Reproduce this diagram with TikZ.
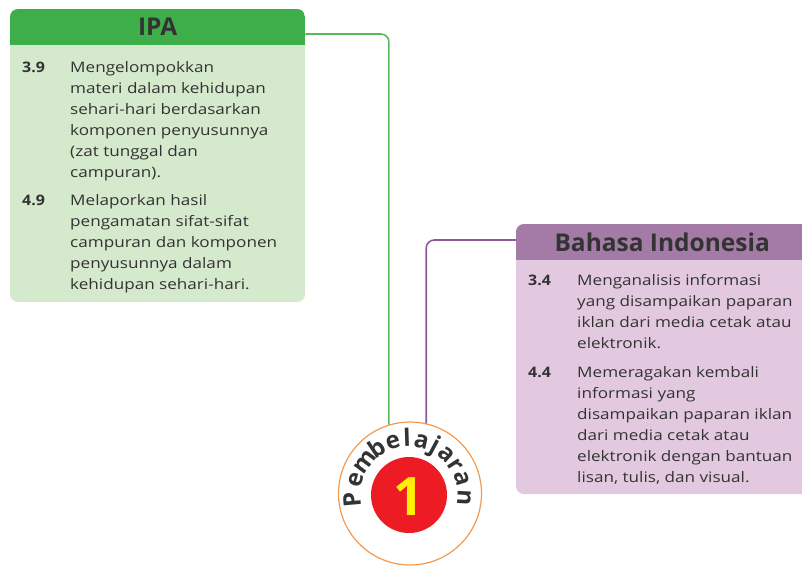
\documentclass[tikz,border=0pt]{standalone}
\usepackage{fontspec}
\setmainfont{Open Sans}
\usetikzlibrary{calc}
\definecolor{ipagreen}{HTML}{3DAE49}
\definecolor{ipalight}{HTML}{D5E9CD}
\definecolor{ipaline}{HTML}{5CB85C}
\definecolor{bipurple}{HTML}{A47BA7}
\definecolor{bilight}{HTML}{E3C9DF}
\definecolor{biline}{HTML}{8C5A98}
\definecolor{ringorange}{HTML}{F39A4E}
\definecolor{numred}{HTML}{ED1C24}
\definecolor{numyellow}{HTML}{FFF200}
\definecolor{inktext}{HTML}{333333}
\newcommand{\kdlines}[1]{\begin{tabular}[t]{@{}l@{}}#1\end{tabular}}
\tikzset{
  kdnum/.style={anchor=base west, inner sep=0pt, text=inktext,
    font=\fontsize{14.5}{21}\selectfont\bfseries\addfontfeature{FakeStretch=1.1}},
  kdtext/.style={anchor=base west, inner sep=0pt, text=inktext,
    font=\fontsize{14.5}{21}\selectfont\addfontfeature{FakeStretch=1.18}},
  headbox/.style={anchor=north west, inner sep=0pt, text=inktext,
    font=\fontsize{24.5}{26}\selectfont\bfseries},
  arcletter/.style={anchor=base, inner sep=0pt, text=inktext,
    font=\fontsize{24}{24}\selectfont\bfseries},
}

\begin{document}
\begin{tikzpicture}[x=1pt,y=1pt]
\useasboundingbox (0,0) rectangle (802,-566);

% IPA
\fill[ipalight,rounded corners=8pt] (10,-9) rectangle (305,-302);
\begin{scope}
  \clip[rounded corners=8pt] (10,-9) rectangle (305,-302);
  \node[headbox,fill=ipagreen,minimum width=295pt,minimum height=36pt] (ipahead) at (10,-9) {IPA};
\end{scope}
\node[kdnum] (ipanum1) at (22,-72) {3.9};
\node[kdtext] (ipakd1) at (70,-72) {\kdlines{Mengelompokkan\\materi dalam kehidupan\\sehari-hari berdasarkan\\komponen penyusunnya\\(zat tunggal dan\\campuran).}};
\node[kdnum] (ipanum2) at (22,-205) {4.9};
\node[kdtext] (ipakd2) at (70,-205) {\kdlines{Melaporkan hasil\\pengamatan sifat-sifat\\campuran dan komponen\\penyusunnya dalam\\kehidupan sehari-hari.}};

% Bahasa Indonesia
\fill[bilight,rounded corners=8pt] (516,-224) rectangle (815,-494);
\begin{scope}
  \clip[rounded corners=8pt] (516,-224) rectangle (815,-494);
  \node[headbox,fill=bipurple,minimum width=292pt,minimum height=36pt] (bihead) at (516,-224) {Bahasa Indonesia};
\end{scope}
\node[kdnum] (binum1) at (528,-285) {3.4};
\node[kdtext] (bikd1) at (577,-285) {\kdlines{Menganalisis informasi\\yang disampaikan paparan\\iklan dari media cetak atau\\elektronik.}};
\node[kdnum] (binum2) at (528,-377) {4.4};
\node[kdtext] (bikd2) at (577,-377) {\kdlines{Memeragakan kembali\\informasi yang\\disampaikan paparan iklan\\dari media cetak atau\\elektronik dengan bantuan\\lisan, tulis, dan visual.}};

% Pembelajaran 1
\node[circle,draw=ringorange,fill=white,line width=1.2pt,minimum size=143pt,inner sep=0pt] (pemb) at (410,-493.5) {};
\coordinate (pembmid) at (409,-495);
\fill[numred] (pembmid) circle (38);
\node[text=numyellow,font=\fontsize{53}{53}\selectfont\bfseries] (pembnum) at (409,-497) {1};
\foreach \ch/\ang in {P/185,e/164,m/143,b/124,e/107,l/92,a/77,j/62,a/48,r/33,a/17,n/-3}
  \node[arcletter,rotate=\ang-90] at ($(pembmid)+(\ang:48.5)$) {\ch};

\draw[ipaline,line width=1.6pt,rounded corners=8pt] ([yshift=-25pt]ipahead.north east) -| (pemb.107);
\draw[biline,line width=1.6pt,rounded corners=8pt] ([yshift=-16pt]bihead.north west) -| (pemb.77);
\end{tikzpicture}
\end{document}
